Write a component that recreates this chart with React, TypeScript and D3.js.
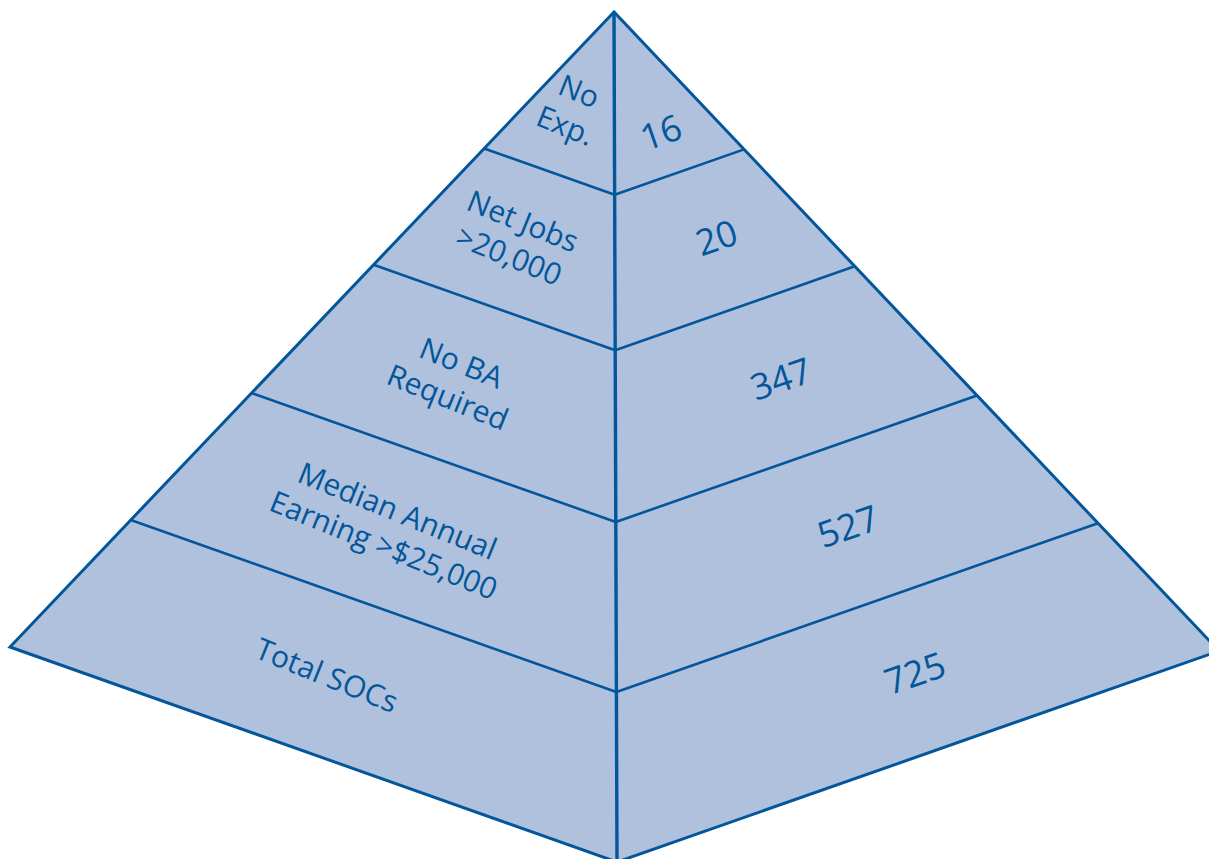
import * as d3 from 'd3';

// pyramid levels, top to bottom
const categories = ['No Exp.', 'Net Jobs >20,000', 'No BA Required', 'Median Annual Earning >$25,000', 'Total SOCs'];
const labelLines = [['No', 'Exp.'], ['Net Jobs', '>20,000'], ['No BA', 'Required'], ['Median Annual', 'Earning >$25,000'], ['Total SOCs']];
const values = [16, 20, 347, 527, 725];

type Pt = [number, number];

const W = 1209;
const H = 859;
const FILL = '#b0c1dd';
const INK = '#03569a';

// corners of the pyramid (right and front corners fall just outside the frame)
const apex: Pt = [614, 12];
const leftC: Pt = [10, 647];
const rightC: Pt = [1219, 651];
const frontC: Pt = [617, 862];

// level boundary -> fraction of the way from apex down to the base
const depth = d3.scaleLinear().domain([0, 1, 2, 3, 4, 5]).range([0, 0.215, 0.398, 0.6, 0.8, 1]);

const lerp = (p: Pt, q: Pt, t: number): Pt => [p[0] + (q[0] - p[0]) * t, p[1] + (q[1] - p[1]) * t];
const edgePt = (corner: Pt, t: number): Pt => lerp(apex, corner, t);

const line = d3.line<Pt>();

export default function App() {
  const fontFamily = '"Open Sans", "Noto Sans", sans-serif';

  const leftFace = line([apex, leftC, frontC]) + 'Z';
  const rightFace = line([apex, frontC, rightC]) + 'Z';
  const outline = line([apex, leftC, frontC, rightC]) + 'Z';

  const bandLines = d3.range(1, categories.length).map((i) => {
    const t = depth(i);
    return line([edgePt(leftC, t), edgePt(frontC, t), edgePt(rightC, t)]);
  });

  const lh = 37;

  return (
    <svg
      width={W}
      height={H}
      viewBox={`0 0 ${W} ${H}`}
      style={{ position: 'fixed', left: 0, top: 0, background: '#fff' }}
    >
      <path d={leftFace} fill={FILL} />
      <path d={rightFace} fill={FILL} />
      {bandLines.map((d, i) => (
        <path key={i} d={d as string} fill="none" stroke={INK} strokeWidth={2.6} strokeLinejoin="round" />
      ))}
      <path d={line([apex, frontC]) as string} fill="none" stroke={INK} strokeWidth={3.4} />
      <path d={outline} fill="none" stroke={INK} strokeWidth={3} strokeLinejoin="miter" />

      {/* category labels on the left face */}
      {labelLines.map((lines, i) => {
        const tm = i === 0 ? 0.13 : (depth(i) + depth(i + 1)) / 2;
        const [x, y] = lerp(edgePt(leftC, tm), edgePt(frontC, tm), 0.47);
        return (
          <g key={categories[i]} transform={`translate(${x},${y}) rotate(22)`}>
            {lines.map((s, k) => (
              <text
                key={k}
                x={0}
                y={(k - (lines.length - 1) / 2) * lh}
                textAnchor="middle"
                dominantBaseline="central"
                fontFamily={fontFamily}
                fontSize={30}
                fontWeight={500}
                fill={INK}
              >
                {s}
              </text>
            ))}
          </g>
        );
      })}

      {/* counts on the right face */}
      {values.map((v, i) => {
        const tm = i === 0 ? 0.16 : (depth(i) + depth(i + 1)) / 2;
        const s = i === 0 ? 0.48 : 0.55;
        const [x, y] = lerp(edgePt(frontC, tm), edgePt(rightC, tm), s);
        return (
          <text
            key={i}
            transform={`translate(${x},${y}) rotate(-19)`}
            textAnchor="middle"
            dominantBaseline="central"
            fontFamily={fontFamily}
            fontSize={36}
            fontWeight={500}
            fill={INK}
          >
            {v}
          </text>
        );
      })}
    </svg>
  );
}
